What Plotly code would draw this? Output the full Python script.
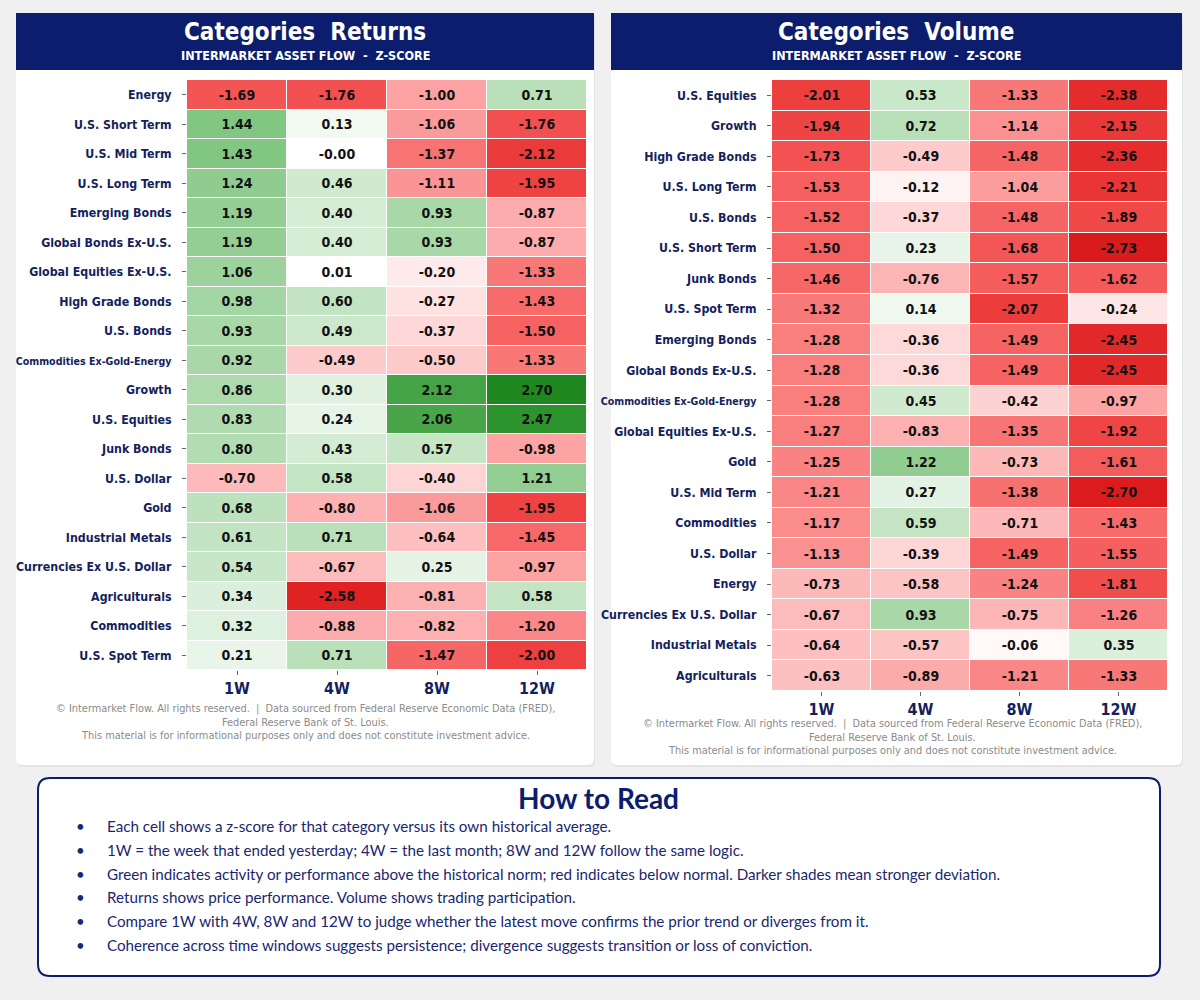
import plotly.graph_objects as go

W, H = 1200, 1000

# ---------------- DATA ----------------
periods = ["1W", "4W", "8W", "12W"]

ret_categories = [
    "Energy", "U.S. Short Term", "U.S. Mid Term", "U.S. Long Term", "Emerging Bonds",
    "Global Bonds Ex-U.S.", "Global Equities Ex-U.S.", "High Grade Bonds", "U.S. Bonds",
    "Commodities Ex-Gold-Energy", "Growth", "U.S. Equities", "Junk Bonds", "U.S. Dollar",
    "Gold", "Industrial Metals", "Currencies Ex U.S. Dollar", "Agriculturals",
    "Commodities", "U.S. Spot Term",
]
ret_1w = [-1.69, 1.44, 1.43, 1.24, 1.19, 1.19, 1.06, 0.98, 0.93, 0.92, 0.86, 0.83, 0.80,
          -0.70, 0.68, 0.61, 0.54, 0.34, 0.32, 0.21]
ret_4w = [-1.76, 0.13, -0.0, 0.46, 0.40, 0.40, 0.01, 0.60, 0.49, -0.49, 0.30, 0.24, 0.43,
          0.58, -0.80, 0.71, -0.67, -2.58, -0.88, 0.71]
ret_8w = [-1.00, -1.06, -1.37, -1.11, 0.93, 0.93, -0.20, -0.27, -0.37, -0.50, 2.12, 2.06,
          0.57, -0.40, -1.06, -0.64, 0.25, -0.81, -0.82, -1.47]
ret_12w = [0.71, -1.76, -2.12, -1.95, -0.87, -0.87, -1.33, -1.43, -1.50, -1.33, 2.70, 2.47,
           -0.98, 1.21, -1.95, -1.45, -0.97, 0.58, -1.20, -2.00]

vol_categories = [
    "U.S. Equities", "Growth", "High Grade Bonds", "U.S. Long Term", "U.S. Bonds",
    "U.S. Short Term", "Junk Bonds", "U.S. Spot Term", "Emerging Bonds",
    "Global Bonds Ex-U.S.", "Commodities Ex-Gold-Energy", "Global Equities Ex-U.S.",
    "Gold", "U.S. Mid Term", "Commodities", "U.S. Dollar", "Energy",
    "Currencies Ex U.S. Dollar", "Industrial Metals", "Agriculturals",
]
vol_1w = [-2.01, -1.94, -1.73, -1.53, -1.52, -1.50, -1.46, -1.32, -1.28, -1.28, -1.28,
          -1.27, -1.25, -1.21, -1.17, -1.13, -0.73, -0.67, -0.64, -0.63]
vol_4w = [0.53, 0.72, -0.49, -0.12, -0.37, 0.23, -0.76, 0.14, -0.36, -0.36, 0.45, -0.83,
          1.22, 0.27, 0.59, -0.39, -0.58, 0.93, -0.57, -0.89]
vol_8w = [-1.33, -1.14, -1.48, -1.04, -1.48, -1.68, -1.57, -2.07, -1.49, -1.49, -0.42,
          -1.35, -0.73, -1.38, -0.71, -1.49, -1.24, -0.75, -0.06, -1.21]
vol_12w = [-2.38, -2.15, -2.36, -2.21, -1.89, -2.73, -1.62, -0.24, -2.45, -2.45, -0.97,
           -1.92, -1.61, -2.70, -1.43, -1.55, -1.81, -1.26, 0.35, -1.33]

footer_lines = [
    "© Intermarket Flow. All rights reserved.  |  Data sourced from Federal Reserve Economic Data (FRED),",
    "Federal Reserve Bank of St. Louis.",
    "This material is for informational purposes only and does not constitute investment advice.",
]
howto_lines = [
    "Each cell shows a z-score for that category versus its own historical average.",
    "1W = the week that ended yesterday; 4W = the last month; 8W and 12W follow the same logic.",
    "Green indicates activity or performance above the historical norm; red indicates below normal. Darker shades mean stronger deviation.",
    "Returns shows price performance. Volume shows trading participation.",
    "Compare 1W with 4W, 8W and 12W to judge whether the latest move confirms the prior trend or diverges from it.",
    "Coherence across time windows suggests persistence; divergence suggests transition or loss of conviction.",
]

# ---------------- STYLE ----------------
NAVY = "#0b1d6c"
LABEL = "#141f5c"
BG = "#f0f0f0"
COND = "DejaVu Sans Condensed, Liberation Sans Narrow, DejaVu Sans"

colorscale = [
    [0.000, "#cc1010"],
    [0.050, "#dc1c1c"],
    [0.1667, "#ee4040"],
    [0.250, "#f66262"],
    [0.3333, "#fca2a2"],
    [0.4167, "#fdcaca"],
    [0.500, "#ffffff"],
    [0.5833, "#cbe8cb"],
    [0.6667, "#a2d4a2"],
    [0.750, "#7cc47c"],
    [0.8333, "#4ca84c"],
    [0.950, "#1e881e"],
    [1.000, "#137813"],
]


def px(x):
    return x / W


def py(y):
    return 1 - y / H


def rrect_path(x0, y0, x1, y1, r):
    pts = [
        ("M", x0 + r, y0), ("L", x1 - r, y0), ("Q", x1, y0, x1, y0 + r),
        ("L", x1, y1 - r), ("Q", x1, y1, x1 - r, y1), ("L", x0 + r, y1),
        ("Q", x0, y1, x0, y1 - r), ("L", x0, y0 + r), ("Q", x0, y0, x0 + r, y0),
    ]
    out = []
    for p in pts:
        cmd = p[0]
        coords = p[1:]
        s = []
        for i in range(0, len(coords), 2):
            s.append(f"{px(coords[i]):.5f},{py(coords[i + 1]):.5f}")
        out.append(cmd + " " + " ".join(s))
    return " ".join(out) + " Z"


def rows_of(cols):
    return [list(r) for r in zip(*cols)]


def tick_text(cats):
    out = []
    for c in cats:
        if c.startswith("Commodities Ex"):
            out.append(f"<span style='font-size:10.6px'>{c}</span>")
        else:
            out.append(c)
    return out


fig = go.Figure()

panels = [
    dict(cats=ret_categories, cols=[ret_1w, ret_4w, ret_8w, ret_12w], xa="x", ya="y"),
    dict(cats=vol_categories, cols=[vol_1w, vol_4w, vol_8w, vol_12w], xa="x2", ya="y2"),
]

for p in panels:
    z = rows_of(p["cols"])
    txt = [[f"{v:.2f}" for v in r] for r in z]
    fig.add_trace(go.Heatmap(
        z=z, x=periods, y=p["cats"], text=txt, texttemplate="%{text}",
        textfont=dict(family=COND, size=14, color="#111111", weight="bold"),
        colorscale=colorscale, zmin=-3, zmax=3, showscale=False,
        xgap=1, ygap=1, xaxis=p["xa"], yaxis=p["ya"], hoverinfo="skip",
    ))

axis_common = dict(showgrid=False, zeroline=False, showline=False, ticks="outside",
                   ticklen=4, tickcolor="#666666", tickwidth=1)

fig.update_layout(
    width=W, height=H, autosize=False,
    margin=dict(l=0, r=0, t=0, b=0),
    paper_bgcolor=BG, plot_bgcolor="white",
    xaxis=dict(domain=[px(187), px(587)], anchor="y", side="bottom",
               tickfont=dict(family=COND, size=16, color=LABEL, weight="bold"),
               ticklabelstandoff=0, **axis_common),
    yaxis=dict(domain=[py(670), py(80)], anchor="x", autorange="reversed",
               tickvals=ret_categories, ticktext=tick_text(ret_categories),
               tickfont=dict(family=COND, size=12.3, color=LABEL, weight="bold"),
               ticklabelstandoff=8, **axis_common),
    xaxis2=dict(domain=[px(772), px(1168)], anchor="y2", side="bottom",
                tickfont=dict(family=COND, size=16, color=LABEL, weight="bold"),
                ticklabelstandoff=0, **axis_common),
    yaxis2=dict(domain=[py(691), py(80)], anchor="x2", autorange="reversed",
                tickvals=vol_categories, ticktext=tick_text(vol_categories),
                tickfont=dict(family=COND, size=12.3, color=LABEL, weight="bold"),
                ticklabelstandoff=8, **axis_common),
)

shapes = []
# card shadows + cards
for (x0, x1) in [(16, 594), (611, 1182)]:
    shapes.append(dict(type="path", path=rrect_path(x0 + 1, 14, x1 + 1, 767, 6),
                       xref="paper", yref="paper", fillcolor="rgba(0,0,0,0.05)",
                       line=dict(width=0), layer="below"))
    shapes.append(dict(type="path", path=rrect_path(x0, 13, x1, 765, 6),
                       xref="paper", yref="paper", fillcolor="white",
                       line=dict(width=0), layer="below"))
    shapes.append(dict(type="rect", x0=px(x0), x1=px(x1), y0=py(70), y1=py(13),
                       xref="paper", yref="paper", fillcolor=NAVY,
                       line=dict(width=0), layer="below"))
# How to read box
shapes.append(dict(type="path", path=rrect_path(38, 778, 1160, 976, 12),
                   xref="paper", yref="paper", fillcolor="white",
                   line=dict(width=2, color=NAVY), layer="below"))
fig.update_layout(shapes=shapes)

ann = []
for title, cx in [("Categories  Returns", 305), ("Categories  Volume", 896)]:
    ann.append(dict(text=f"<b>{title}</b>", x=px(cx), y=py(32), xref="paper", yref="paper",
                    showarrow=False, xanchor="center", yanchor="middle",
                    font=dict(family=COND, size=24, color="white")))
    ann.append(dict(text="<b>INTERMARKET ASSET FLOW  -  Z-SCORE</b>", x=px(cx), y=py(55),
                    xref="paper", yref="paper", showarrow=False, xanchor="center",
                    yanchor="middle", font=dict(family=COND, size=12.5, color="white")))

for cx, ys in [(305, [708, 722, 735]), (892, [723, 737, 750])]:
    for line, yy in zip(footer_lines, ys):
        ann.append(dict(text=line, x=px(cx), y=py(yy), xref="paper", yref="paper",
                        showarrow=False, xanchor="center", yanchor="middle",
                        font=dict(family=COND, size=10.9, color="#8a8a8a")))

ann.append(dict(text="<b>How to Read</b>", x=px(598), y=py(798), xref="paper", yref="paper",
                showarrow=False, xanchor="center", yanchor="middle",
                font=dict(family="Lato", size=28, color=NAVY)))
for i, line in enumerate(howto_lines):
    yy = 826 + i * 23.8
    ann.append(dict(text="•", x=px(80), y=py(yy), xref="paper", yref="paper",
                    showarrow=False, xanchor="center", yanchor="middle",
                    font=dict(family="Lato", size=15, color="#1a2670")))
    ann.append(dict(text=line, x=px(105), y=py(yy), xref="paper", yref="paper",
                    showarrow=False, xanchor="left", yanchor="middle",
                    font=dict(family="Lato", size=15.2, color="#1a2670")))
fig.update_layout(annotations=ann)

fig.write_html("out.html")
